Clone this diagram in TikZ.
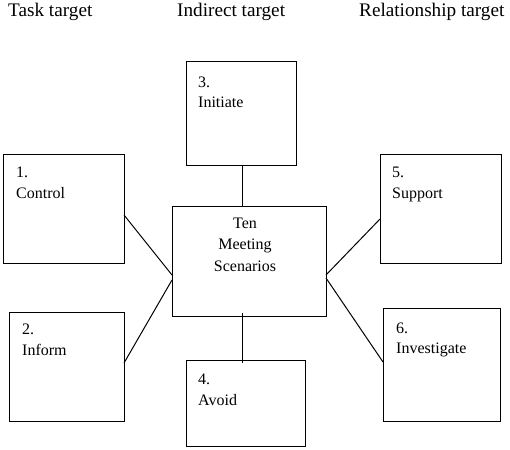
\documentclass[tikz,border=0pt]{standalone}
\usepackage{fontspec}
\setmainfont{Liberation Serif}
\usetikzlibrary{calc}
\begin{document}
\begin{tikzpicture}[x=1pt,y=-1pt,
  box/.style={draw,line width=1pt,inner sep=0pt,outer sep=0pt},
  lbl/.style={anchor=base west,inner sep=0pt,align=left,font=\fontsize{16}{20.5}\selectfont},
  ctr/.style={anchor=base,inner sep=0pt,align=center,font=\fontsize{16}{21.5}\selectfont},
  title/.style={anchor=base west,inner sep=0pt,font=\fontsize{19.2}{23}\selectfont},
  conn/.style={line width=1pt}]
\useasboundingbox (0,0) rectangle (510,449);
% titles
\node[title] (tt) at (8,17) {Task target};
\node[title] (it) at (177,17) {Indirect target};
\node[title] (rt) at (359,17) {Relationship target};
% boxes
\node[box,minimum width=121pt,minimum height=109pt] (b1) at (63.5,208.5) {};
\node[box,minimum width=115pt,minimum height=109pt] (b2) at (66.5,366.5) {};
\node[box,minimum width=110pt,minimum height=103pt] (b3) at (241,113.5) {};
\node[box,minimum width=119pt,minimum height=86pt] (b4) at (245.5,403) {};
\node[box,minimum width=121pt,minimum height=109pt] (b5) at (440.5,208.5) {};
\node[box,minimum width=117pt,minimum height=113pt] (b6) at (441.5,364.5) {};
\node[box,minimum width=154pt,minimum height=110pt] (c) at (249,261) {};
% labels (anchored at the baseline of the last line)
\node[lbl] (l1) at ($(b1.north west)+(13,44)$) {1.\\Control};
\node[lbl] (l2) at ($(b2.north west)+(13,43)$) {2.\\Inform};
\node[lbl] (l3) at ($(b3.north west)+(12,46)$) {3.\\Initiate};
\node[lbl] (l4) at ($(b4.north west)+(12,45)$) {4.\\Avoid};
\node[lbl] (l5) at ($(b5.north west)+(12,44)$) {5.\\Support};
\node[lbl] (l6) at ($(b6.north west)+(13,45.5)$) {6.\\Investigate};
\node[ctr] (lc) at (245,271) {Ten\\Meeting\\Scenarios};
% connectors
\coordinate (t3) at ([xshift=1pt]b3.south);
\draw[conn] (b3.south -| t3) -- (c.north -| t3);
\draw[conn] ($(b1.north east)+(0,61)$) -- ($(c.north west)+(0,69)$);
\draw[conn] ($(b2.north east)+(0,51)$) -- ($(c.north west)+(0,74)$);
\draw[conn] ($(b5.north west)+(0,65)$) -- ($(c.north east)+(0,69)$);
\draw[conn] ($(b6.north west)+(0,54)$) -- ($(c.north east)+(0,72)$);
\draw[conn] ($(c.south)+(-7,-3)$) -- ($(b4.north)+(-3.5,3)$);
\end{tikzpicture}
\end{document}
